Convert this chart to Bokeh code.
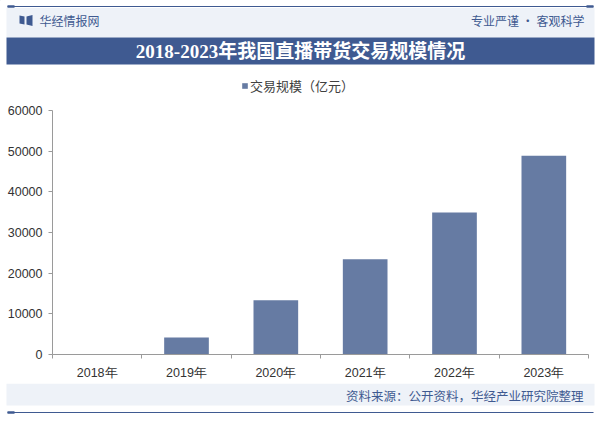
import numpy as np
from bokeh.plotting import figure
from bokeh.models import Range1d, FixedTicker, Legend, LegendItem, CustomJSTickFormatter, NumeralTickFormatter
from bokeh.layouts import column
from bokeh.core.properties import value
from bokeh.embed import file_html
from bokeh.resources import INLINE

# ---------------- data ----------------
years = ["2018年", "2019年", "2020年", "2021年", "2022年", "2023年"]
volume = [0, 4180, 13340, 23400, 34900, 48900]
y_ticks = [0, 10000, 20000, 30000, 40000, 50000, 60000]
title_text = "2018-2023年我国直播带货交易规模情况"
series_name = "交易规模（亿元）"
brand = "华经情报网"
slogan = "专业严谨 • 客观科学"
source_note = "资料来源：公开资料，华经产业研究院整理"

W = 600
NAVY = "#3f5a91"
LIGHT = "#eef2f8"
BAR = "#667ba3"
CJK = "Noto Sans CJK SC"


def bare(fig):
    fig.axis.visible = False
    fig.grid.visible = False
    fig.outline_line_color = None
    fig.background_fill_color = "white"
    fig.border_fill_color = "white"


# ---------------- header (incl. legend row) ----------------
HH = 100
h = figure(width=W, height=HH, x_range=Range1d(0, W), y_range=Range1d(HH, 0),
           output_backend="svg", toolbar_location=None, min_border=0, frame_align=False)
bare(h)
h.segment(x0=[7], x1=[593], y0=[6], y1=[6], line_color=NAVY, line_width=1.2)
h.quad(left=[7, 586], right=[14, 593], top=[4.8, 4.8], bottom=[7.2, 7.2], fill_color=NAVY, line_color=None)
h.quad(left=[6], right=[594], top=[7.5], bottom=[37], fill_color=LIGHT, line_color=None)
h.quad(left=[6], right=[594], top=[37], bottom=[64], fill_color=NAVY, line_color=None)
# logo icon
h.patches(xs=[[19, 24, 24, 19], [26, 32, 32, 26]],
          ys=[[15, 16, 24, 23], [16, 14.5, 25.5, 24]], fill_color=NAVY, line_color=None)
h.text(x=[39], y=[20], text=[brand], text_font=value(CJK), text_font_size="12px",
       text_color=NAVY, text_baseline="middle", text_align="left")
h.text(x=[584], y=[20], text=[slogan], text_font=value(CJK), text_font_size="12px",
       text_color=NAVY, text_baseline="middle", text_align="right")
h.text(x=[300], y=[51], text=[title_text], text_font=value("Liberation Serif, Noto Sans CJK SC"),
       text_font_size="19px", text_font_style="bold", text_color="white",
       text_baseline="middle", text_align="center")
# legend swatch renderer (a single point placed off-canvas; only its legend glyph shows)
legend_swatch = h.vbar(x=[-50], top=[-50], bottom=[-60], width=1, fill_color=BAR, line_color=None)
legend = Legend(items=[LegendItem(label=series_name, renderers=[legend_swatch])],
                location=(241, 5), glyph_width=7, glyph_height=7, label_standoff=2,
                padding=0, margin=0, spacing=0, border_line_color=None,
                background_fill_alpha=0, label_height=14,
                label_text_font=CJK, label_text_font_size="13px", label_text_color="#404040")
h.add_layout(legend)

# ---------------- chart ----------------
c = figure(width=W, height=283, x_range=Range1d(0, len(years)), y_range=Range1d(0, 60000),
           output_backend="svg", toolbar_location=None, frame_align=False,
           min_border_left=52, min_border_right=12, min_border_top=10, min_border_bottom=29)
c.grid.visible = False
c.outline_line_color = None
c.background_fill_color = "white"
c.border_fill_color = "white"

xs = np.arange(len(years)) + 0.5
bars = c.vbar(x=xs, top=volume, width=0.5, fill_color=BAR, line_color=None)

c.xaxis.ticker = FixedTicker(ticks=list(xs), minor_ticks=list(range(len(years) + 1)))
c.xaxis.formatter = CustomJSTickFormatter(args=dict(labels=years),
                                          code="return labels[Math.floor(tick)] || '';")
c.xaxis.major_tick_out = 0
c.xaxis.major_tick_in = 0
c.xaxis.minor_tick_out = 4
c.xaxis.minor_tick_in = 0
c.xaxis.minor_tick_line_color = "#9a9a9a"
c.xaxis.axis_line_color = "#9a9a9a"
c.xaxis.major_label_standoff = 7
c.xaxis.major_label_text_font = "Liberation Sans"
c.xaxis.major_label_text_font_size = "12.5px"
c.xaxis.major_label_text_color = "#333333"

c.yaxis.ticker = FixedTicker(ticks=y_ticks)
c.yaxis.formatter = NumeralTickFormatter(format="0")
c.yaxis.major_tick_out = 4
c.yaxis.major_tick_in = 0
c.yaxis.minor_tick_line_color = None
c.yaxis.major_tick_line_color = "#9a9a9a"
c.yaxis.axis_line_color = "#9a9a9a"
c.yaxis.major_label_standoff = 6
c.yaxis.major_label_text_font = "Liberation Sans"
c.yaxis.major_label_text_font_size = "12.5px"
c.yaxis.major_label_text_color = "#333333"

# ---------------- footer ----------------
f = figure(width=W, height=38, x_range=Range1d(0, W), y_range=Range1d(38, 0),
           output_backend="svg", toolbar_location=None, min_border=0, frame_align=False)
bare(f)
f.quad(left=[6], right=[594], top=[0], bottom=[22], fill_color=LIGHT, line_color=None)
f.text(x=[583], y=[12], text=[source_note], text_font=value(CJK), text_font_size="12.5px",
       text_color=NAVY, text_baseline="middle", text_align="right")
f.segment(x0=[7], x1=[593], y0=[29], y1=[29], line_color=NAVY, line_width=1.2)
f.quad(left=[7, 586], right=[14, 593], top=[27.8], bottom=[30.2], fill_color=NAVY, line_color=None)

layout = column(h, c, f, spacing=0)
open("out.html", "w").write(file_html(layout, INLINE))
